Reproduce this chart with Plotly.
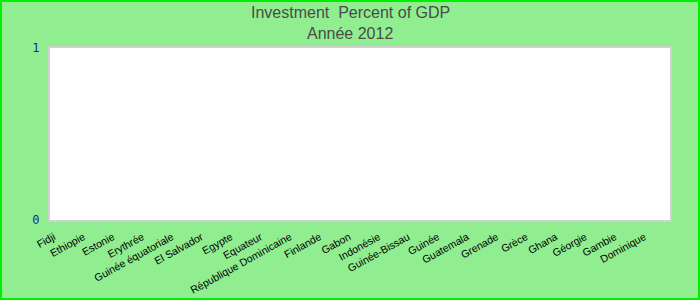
import plotly.graph_objects as go

categories = ["Fidji", "Ethiopie", "Estonie", "Erythrée", "Guinée équatoriale", "El Salvador",
              "Egypte", "Equateur", "République Dominicaine", "Finlande", "Gabon", "Indonésie",
              "Guinée-Bissau", "Guinée", "Guatemala", "Grenade", "Grèce", "Ghana", "Géorgie",
              "Gambie", "Dominique"]
values = [None] * len(categories)
y_ticks = [0, 1]
title_lines = ["Investment  Percent of GDP", "Année 2012"]

W, H = 700, 300
L, R, T, B = 50, 30, 48, 80
pw, ph = W - L - R, H - T - B

fig = go.Figure(go.Bar(x=categories, y=values, marker_color="#4472C4"))

title_font = dict(family="Liberation Sans, Arial", size=16, color="#4a4a4a")
annotations = []
for i, line in enumerate(title_lines):
    annotations.append(dict(text=line, xref="paper", yref="paper",
                            x=(W / 2 - L) / pw, y=1 + (T - 12 - 21 * i) / ph,
                            xanchor="center", yanchor="middle", showarrow=False,
                            font=title_font))

fig.update_layout(
    width=W, height=H,
    margin=dict(l=L, r=R, t=T, b=B, autoexpand=False),
    paper_bgcolor="#90EE90",
    plot_bgcolor="white",
    showlegend=False,
    annotations=annotations,
    xaxis=dict(type="category", tickangle=-29, showgrid=False, zeroline=False, automargin=False,
               tickfont=dict(family="Liberation Sans, Arial", size=10.5, color="black"),
               showline=True, linecolor="#d0d0d0", linewidth=2, mirror=True, ticks="",
               ticklabelstandoff=5, ticklabelshift=-11),
    yaxis=dict(range=[0, 1], tickvals=y_ticks, ticktext=[str(v) for v in y_ticks],
               showgrid=False, zeroline=False, automargin=False,
               tickfont=dict(family="DejaVu Sans Mono, monospace", size=12, color="#1a1aB0"),
               showline=True, linecolor="#d0d0d0", linewidth=2, mirror=True, ticks="",
               ticklabelstandoff=6),
    shapes=[dict(type="rect", xref="paper", yref="paper",
                 x0=(-L + 1) / pw, x1=1 + (R - 1) / pw,
                 y0=(-B + 1) / ph, y1=1 + (T - 1) / ph,
                 line=dict(color="#00EE00", width=2), layer="above")],
)

fig.write_html("out.html")
